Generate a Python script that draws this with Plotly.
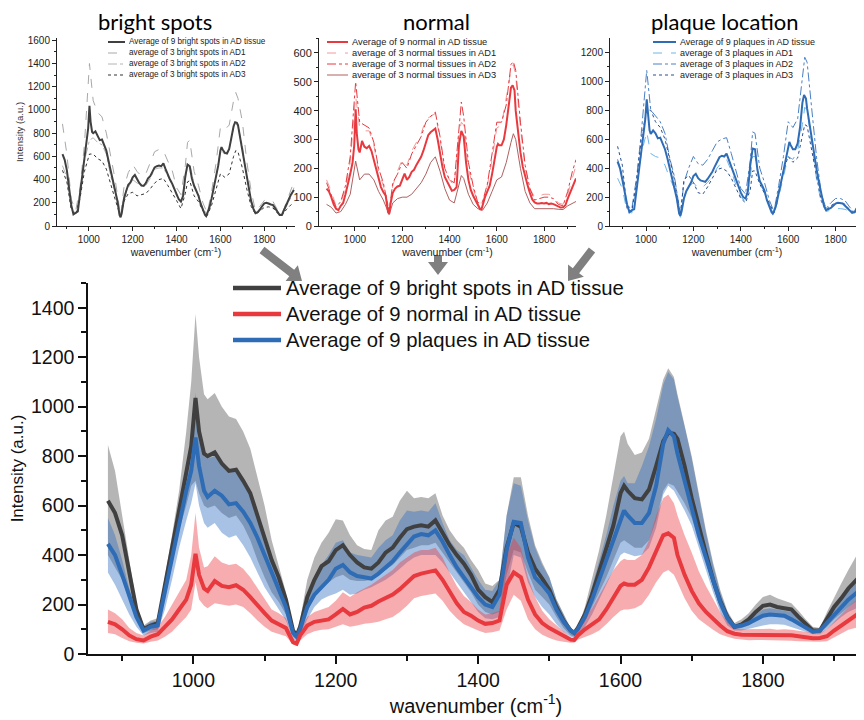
import math
import plotly.graph_objects as go

# ---------------- data (main panel) ----------------
wn = ([880, 890, 900, 910, 920, 930, 940, 950, 960, 970, 980, 990,
       997, 1003, 1008, 1015,
       1020, 1030, 1040, 1050, 1060, 1070, 1080, 1090, 1100, 1110, 1120, 1130, 1140,
       1145]
      + list(range(1150, 1531, 10))
      + [1535]
      + list(range(1540, 1601, 10))
      + [1605]
      + list(range(1610, 1661, 10))
      + [1667, 1675]
      + list(range(1680, 1921, 10))
      + [1935])

bright_mean = ([620, 570, 480, 330, 180, 100, 115, 125, 280, 430, 580, 730]
               + [840, 1035, 900, 810]
               + [800, 815, 770, 740, 745, 700, 650, 560, 470, 380, 310, 220, 95]
               + [75]
               + [110, 230, 300, 355, 375, 420, 440, 400, 370, 350, 345, 370, 410, 430, 470,
                  505, 515, 520, 515, 540, 490, 440, 400, 365, 320, 260, 230, 210, 260, 430,
                  530, 515, 410, 345, 305, 260, 190, 135, 95]
               + [85]
               + [105, 160, 240, 330, 420, 520, 650]
               + [680]
               + [660, 630, 625, 665, 760, 860]
               + [895, 890]
               + [870, 760, 630, 510, 405, 300, 215, 150, 110, 120, 140, 170, 195, 200, 190,
                  185, 180, 150, 120, 95, 95, 140, 190, 225, 265]
               + [310])
bright_upper = ([845, 740, 560, 370, 200, 115, 135, 145, 310, 480, 660, 900]
                + [1100, 1375, 1200, 1050]
                + [1030, 1055, 1000, 960, 950, 900, 830, 720, 600, 460, 350, 250, 105]
                + [85]
                + [140, 300, 390, 450, 490, 545, 540, 480, 440, 425, 420, 500, 540, 555, 620,
                   660, 630, 635, 630, 650, 560, 500, 460, 430, 380, 340, 285, 275, 300, 560,
                   715, 715, 560, 440, 370, 310, 220, 160, 105]
                + [90]
                + [110, 190, 300, 420, 560, 720, 880]
                + [900]
                + [850, 805, 815, 870, 990, 1110]
                + [1155, 1120]
                + [1050, 930, 800, 650, 500, 370, 260, 175, 125, 140, 165, 200, 230, 240, 225,
                   215, 205, 175, 140, 110, 105, 170, 230, 285, 340]
                + [415])
bright_lower = ([400, 350, 300, 220, 140, 85, 95, 100, 220, 360, 500, 600]
                + [680, 700, 650, 600]
                + [590, 600, 570, 550, 560, 520, 460, 380, 310, 250, 210, 160, 70]
                + [60]
                + [85, 170, 230, 270, 290, 310, 320, 300, 295, 295, 300, 320, 340, 360, 390,
                   420, 430, 440, 440, 450, 410, 370, 330, 290, 250, 200, 170, 160, 170, 320,
                   420, 410, 330, 260, 230, 200, 150, 105, 75]
                + [70]
                + [90, 130, 190, 250, 310, 380, 450]
                + [460]
                + [450, 430, 430, 460, 540, 660]
                + [690, 680]
                + [660, 610, 550, 460, 370, 270, 185, 125, 100, 105, 115, 135, 150, 155, 150,
                   148, 140, 120, 100, 82, 85, 110, 140, 165, 190]
                + [220])

plaque_mean = ([445, 400, 320, 230, 150, 95, 110, 115, 250, 390, 530, 660]
               + [740, 875, 760, 660]
               + [635, 660, 640, 605, 610, 575, 530, 470, 400, 330, 265, 190, 85]
               + [70]
               + [100, 190, 240, 270, 300, 345, 360, 330, 315, 310, 305, 325, 350, 375, 410,
                  445, 475, 485, 480, 500, 455, 400, 350, 310, 270, 230, 200, 190, 240, 420,
                  535, 530, 390, 310, 280, 245, 180, 130, 95]
               + [85]
               + [100, 150, 220, 300, 380, 460, 545]
               + [580]
               + [560, 530, 530, 570, 680, 850]
               + [905, 880]
               + [810, 700, 590, 480, 390, 300, 210, 145, 110, 115, 125, 140, 155, 160, 158,
                  155, 140, 122, 105, 90, 95, 125, 160, 190, 220]
               + [255])
plaque_upper = ([550, 480, 380, 265, 170, 110, 130, 135, 280, 440, 600, 750]
                + [880, 1055, 880, 800]
                + [790, 800, 765, 735, 740, 700, 640, 550, 465, 380, 300, 215, 95]
                + [80]
                + [120, 240, 300, 360, 400, 450, 460, 410, 400, 395, 390, 430, 460, 480, 540,
                   580, 575, 580, 575, 610, 530, 460, 420, 400, 350, 300, 260, 255, 300, 560,
                   690, 680, 540, 430, 360, 310, 220, 160, 100]
                + [90]
                + [105, 170, 270, 370, 480, 600, 700]
                + [720]
                + [690, 690, 760, 840, 950, 1090]
                + [1140, 1110]
                + [1040, 920, 790, 640, 490, 360, 250, 170, 115, 125, 140, 160, 180, 185, 180,
                   178, 170, 145, 120, 100, 100, 145, 190, 230, 270]
                + [320])
plaque_lower = ([330, 280, 220, 160, 110, 75, 85, 90, 180, 300, 430, 540]
                + [610, 690, 600, 530]
                + [510, 530, 490, 470, 480, 440, 390, 330, 270, 220, 180, 135, 60]
                + [55]
                + [75, 140, 190, 220, 235, 245, 260, 240, 245, 260, 270, 285, 300, 320, 345,
                   370, 390, 400, 400, 400, 370, 330, 290, 250, 210, 170, 145, 140, 150, 260,
                   400, 390, 290, 230, 190, 160, 120, 90, 70]
                + [65]
                + [80, 110, 160, 220, 280, 340, 400]
                + [410]
                + [405, 395, 400, 430, 510, 645]
                + [680, 660]
                + [630, 580, 520, 430, 340, 250, 170, 115, 95, 95, 100, 108, 115, 120, 120,
                   118, 110, 100, 90, 80, 80, 100, 125, 150, 170]
                + [190])

normal_mean = ([130, 120, 100, 75, 60, 55, 70, 80, 110, 140, 180, 220]
               + [280, 405, 320, 265]
               + [255, 295, 275, 270, 278, 260, 230, 195, 165, 135, 118, 105, 48]
               + [42]
               + [75, 115, 130, 137, 140, 160, 182, 160, 170, 188, 195, 212, 225, 240, 262,
                  290, 315, 325, 330, 338, 300, 250, 205, 170, 155, 135, 122, 125, 135, 280,
                  330, 310, 220, 160, 125, 105, 90, 72, 58]
               + [57]
               + [75, 100, 120, 140, 180, 230, 275]
               + [285]
               + [280, 280, 300, 350, 420, 480]
               + [488, 470]
               + [400, 320, 255, 205, 170, 142, 115, 92, 82, 78, 78, 80, 78, 80, 76,
                  78, 76, 72, 68, 64, 65, 72, 95, 115, 138]
               + [165])
normal_upper = ([180, 165, 140, 105, 85, 75, 95, 110, 150, 200, 250, 300]
                + [400, 570, 430, 350]
                + [355, 395, 370, 360, 365, 345, 310, 265, 220, 180, 165, 145, 62]
                + [55]
                + [100, 150, 170, 180, 190, 215, 250, 230, 250, 265, 280, 300, 320, 340, 370,
                   390, 410, 420, 420, 430, 390, 330, 275, 235, 210, 180, 160, 165, 175, 400,
                   470, 430, 310, 230, 175, 140, 115, 90, 68]
                + [65]
                + [90, 145, 185, 235, 290, 340, 375]
                + [385]
                + [380, 380, 400, 460, 560, 630]
                + [645, 610]
                + [560, 480, 410, 335, 275, 220, 170, 130, 105, 100, 100, 102, 100, 102, 98,
                   100, 98, 95, 90, 85, 85, 100, 130, 160, 190]
                + [225])
normal_lower = ([85, 80, 65, 52, 45, 42, 50, 55, 70, 90, 120, 150]
                + [180, 290, 220, 195]
                + [185, 205, 200, 195, 200, 190, 165, 135, 110, 90, 80, 72, 38]
                + [33]
                + [55, 80, 92, 98, 100, 110, 120, 110, 115, 122, 125, 130, 140, 150, 170,
                   195, 225, 235, 240, 245, 215, 175, 145, 120, 108, 95, 85, 88, 95, 180,
                   240, 215, 140, 100, 78, 65, 55, 50, 45]
                + [45]
                + [58, 70, 80, 95, 120, 150, 175]
                + [180]
                + [180, 185, 200, 240, 290, 330]
                + [340, 320]
                + [290, 225, 175, 140, 118, 98, 80, 70, 62, 58, 56, 57, 55, 56, 55,
                   55, 54, 52, 50, 50, 50, 52, 68, 82, 98]
                + [110])

# ---------------- data (small panels: per-AD averages) ----------------
sx = [880, 900, 920, 940, 960, 980, 1003, 1020, 1040, 1060, 1080, 1100, 1120, 1145, 1160,
      1180, 1200, 1220, 1240, 1260, 1280, 1300, 1320, 1340, 1360, 1380, 1400, 1420, 1440,
      1450, 1460, 1480, 1500, 1520, 1540, 1560, 1580, 1600, 1620, 1640, 1660, 1670, 1680,
      1700, 1720, 1740, 1760, 1780, 1800, 1820, 1840, 1860, 1880, 1900, 1920, 1935]

bright_ad1 = [880, 620, 230, 130, 330, 700, 1400, 1080, 980, 940, 800, 600, 400, 85, 330, 460,
              530, 470, 430, 450, 540, 640, 660, 650, 560, 480, 330, 270, 520, 720, 740, 470,
              350, 200, 110, 300, 540, 850, 830, 870, 1080, 1150, 1100, 900, 560, 300, 130,
              170, 220, 230, 210, 140, 100, 200, 290, 380]
bright_ad2 = [520, 420, 160, 110, 280, 560, 740, 760, 720, 700, 620, 430, 290, 80, 260, 330,
              400, 370, 340, 350, 410, 490, 500, 500, 430, 360, 260, 210, 400, 520, 540, 360,
              270, 150, 100, 230, 420, 650, 620, 660, 850, 880, 860, 690, 420, 220, 110, 150,
              190, 200, 185, 130, 95, 170, 240, 330]
bright_ad3 = [480, 380, 140, 100, 240, 470, 620, 620, 580, 560, 490, 350, 230, 80, 210, 280,
              290, 260, 270, 280, 320, 370, 400, 410, 350, 290, 220, 150, 280, 380, 390, 260,
              210, 130, 90, 180, 320, 450, 420, 450, 600, 650, 640, 500, 320, 170, 100, 130,
              160, 165, 155, 110, 90, 140, 180, 200]
normal_ad1 = [160, 120, 70, 80, 130, 220, 450, 340, 330, 330, 280, 190, 140, 55, 140, 190,
              230, 210, 260, 290, 320, 370, 380, 390, 300, 190, 160, 140, 320, 360, 350, 200,
              130, 80, 80, 140, 230, 340, 350, 440, 540, 560, 520, 340, 200, 130, 100, 105,
              110, 110, 100, 80, 75, 110, 170, 210]
normal_ad2 = [150, 110, 65, 85, 140, 240, 500, 360, 350, 340, 290, 200, 150, 50, 150, 180,
              220, 200, 250, 280, 310, 360, 380, 395, 310, 200, 160, 150, 350, 430, 380, 220,
              140, 80, 85, 145, 250, 360, 360, 420, 560, 570, 540, 360, 210, 130, 90, 95,
              100, 100, 95, 75, 70, 120, 190, 230]
normal_ad3 = [75, 65, 45, 50, 75, 110, 225, 160, 180, 180, 160, 120, 90, 40, 80, 95,
              100, 100, 110, 130, 150, 180, 220, 240, 190, 130, 90, 80, 150, 175, 165, 110,
              75, 60, 55, 80, 120, 160, 170, 220, 290, 320, 300, 200, 120, 80, 60, 60,
              62, 62, 60, 58, 57, 70, 80, 85]
plaque_ad1 = [330, 260, 100, 90, 260, 500, 650, 500, 480, 470, 420, 330, 260, 60, 200, 270,
              300, 260, 270, 300, 340, 400, 440, 460, 380, 280, 200, 170, 330, 480, 480, 300,
              230, 150, 75, 200, 340, 480, 460, 520, 700, 820, 800, 560, 320, 160, 100, 110,
              120, 120, 115, 100, 85, 130, 170, 200]
plaque_ad2 = [460, 350, 140, 120, 330, 640, 1075, 800, 760, 720, 640, 470, 340, 80, 300, 400,
              480, 430, 420, 460, 520, 580, 600, 610, 500, 380, 260, 220, 450, 650, 640, 400,
              300, 180, 100, 280, 480, 720, 680, 740, 1000, 1165, 1130, 820, 470, 220, 120,
              160, 190, 190, 175, 130, 95, 170, 230, 270]
plaque_ad3 = [550, 420, 120, 100, 310, 600, 800, 800, 720, 680, 600, 450, 320, 70, 320, 350,
              300, 230, 220, 270, 330, 390, 400, 380, 330, 260, 190, 160, 250, 380, 380, 290,
              230, 160, 90, 230, 380, 480, 440, 470, 620, 700, 690, 520, 330, 170, 110, 140,
              160, 160, 150, 110, 90, 150, 190, 220]

# The page body has an 8px margin; size the figure so that it fills the window exactly.
OFF = 8
W, H = 864 - OFF, 720 - OFF
def px(x):
    return (x - OFF) / W
def py(y):
    return 1 - (y - OFF) / H

C_BRIGHT = "#404040"
C_NORMAL = "#e8393f"
C_PLAQUE = "#2e6cb6"
MAINFONT = "Liberation Sans, Arial, sans-serif"

fig = go.Figure()

def band(x, lo, hi, color, xa="x", ya="y"):
    fig.add_trace(go.Scatter(x=list(x) + list(x)[::-1], y=list(hi) + list(lo)[::-1],
                             fill="toself", fillcolor=color, mode="lines",
                             line=dict(width=0), hoverinfo="skip", showlegend=False,
                             xaxis=xa, yaxis=ya))

band(wn, bright_lower, bright_upper, "rgba(100,100,100,0.48)")
band(wn, plaque_lower, plaque_upper, "rgba(45,110,190,0.42)")
band(wn, normal_lower, normal_upper, "rgba(235,60,65,0.42)")

main_series = [
    ("Average of 9 bright spots in AD tissue", bright_mean, C_BRIGHT),
    ("Average of 9 normal in AD tissue", normal_mean, C_NORMAL),
    ("Average of 9 plaques in AD tissue", plaque_mean, C_PLAQUE),
]
for name, vals, col in [main_series[0], main_series[2], main_series[1]]:
    fig.add_trace(go.Scatter(x=wn, y=vals, mode="lines", name=name, showlegend=False,
                             line=dict(color=col, width=4)))

shapes = []
annotations = []

# main legend (drawn by hand to match the long line samples and row spacing)
for i, (name, _, col) in enumerate(main_series):
    ry = 288 + 26 * i
    shapes.append(dict(type="line", xref="paper", yref="paper", x0=px(233), x1=px(281),
                       y0=py(ry), y1=py(ry), line=dict(color=col, width=4.5)))
    annotations.append(dict(text=name, xref="paper", yref="paper", x=px(284), y=py(ry),
                            xanchor="left", yanchor="middle", showarrow=False,
                            font=dict(family=MAINFONT, size=20.3, color="#111")))

# small panels
panels = [
    ("x2", "y2", bright_mean, C_BRIGHT,
     [(bright_ad1, "#a8a8a8", "dash"), (bright_ad2, "#b4b4b4", "dashdot"), (bright_ad3, "#333333", "dot")],
     ["Average of 9 bright spots in AD tissue", "average of 3 bright spots in AD1",
      "average of 3 bright spots in AD2", "average of 3 bright spots in AD3"], 108, 125, 8.2),
    ("x3", "y3", normal_mean, C_NORMAL,
     [(normal_ad1, "#f29a9a", "dash"), (normal_ad2, "#e8393f", "dashdot"), (normal_ad3, "#b06060", "solid")],
     ["Average of 9 normal in AD tissue", "average of 3 normal tissues in AD1",
      "average of 3 normal tissues in AD2", "average of 3 normal tissues in AD3"], 327, 348, 9.3),
    ("x4", "y4", plaque_mean, C_PLAQUE,
     [(plaque_ad1, "#6fb6ea", "dash"), (plaque_ad2, "#4a80c4", "dashdot"), (plaque_ad3, "#2a4f8f", "dot")],
     ["Average of 9 plaques in AD tissue", "average of 3 plaques in AD1",
      "average of 3 plaques in AD2", "average of 3 plaques in AD3"], 653, 676, 9.0),
]

row_y = [42, 53, 64, 75]
for xa, ya, mean, col, ads, labels, lx0, lx1, fs in panels:
    for vals, c, d in ads:
        fig.add_trace(go.Scatter(x=sx, y=vals, mode="lines", showlegend=False,
                                 line=dict(color=c, width=1, dash=d), xaxis=xa, yaxis=ya))
    fig.add_trace(go.Scatter(x=wn, y=mean, mode="lines", showlegend=False,
                             line=dict(color=col, width=2), xaxis=xa, yaxis=ya))
    styles = [(col, 2, "solid")] + [(c, 1, d) for _, c, d in ads]
    for (c, w, d), lab, ry in zip(styles, labels, row_y):
        shapes.append(dict(type="line", xref="paper", yref="paper",
                           x0=px(lx0), x1=px(lx1), y0=py(ry), y1=py(ry),
                           line=dict(color=c, width=w, dash=d)))
        annotations.append(dict(text=lab, xref="paper", yref="paper", x=px(lx1 + 2), y=py(ry),
                                xanchor="left", yanchor="middle", showarrow=False,
                                font=dict(family=MAINFONT, size=fs, color="#222")))

# panel titles
for t, cx in [("bright spots", 155), ("normal", 437), ("plaque location", 725)]:
    annotations.append(dict(text=t, xref="paper", yref="paper", x=px(cx), y=py(22),
                            xanchor="center", yanchor="middle", showarrow=False,
                            font=dict(family="Lato, Open Sans, sans-serif", size=22, color="#000")))

# gray arrows (decoration), drawn as polygons
def arrow_path(tail, tip, shaft=8.0, head_w=20.0, head_l=13.0):
    dx, dy = tip[0] - tail[0], tip[1] - tail[1]
    L = math.hypot(dx, dy)
    ux, uy = dx / L, dy / L
    nx, ny = -uy, ux
    bx, by = tip[0] - ux * head_l, tip[1] - uy * head_l
    pts = [(tail[0] + nx * shaft / 2, tail[1] + ny * shaft / 2),
           (bx + nx * shaft / 2, by + ny * shaft / 2),
           (bx + nx * head_w / 2, by + ny * head_w / 2),
           tip,
           (bx - nx * head_w / 2, by - ny * head_w / 2),
           (bx - nx * shaft / 2, by - ny * shaft / 2),
           (tail[0] - nx * shaft / 2, tail[1] - ny * shaft / 2)]
    return "M " + " L ".join(f"{px(a):.5f},{py(b):.5f}" for a, b in pts) + " Z"

for tail, tip in [((262, 250), (302, 281)), ((438, 255), (438, 275)), ((592, 250), (568, 281))]:
    shapes.append(dict(type="path", xref="paper", yref="paper", path=arrow_path(tail, tip),
                       fillcolor="#808080", line=dict(width=0)))

def small_x(dom, rng, anchor):
    return dict(domain=dom, range=rng, anchor=anchor, showline=True, linecolor="#222", linewidth=1,
                ticks="outside", ticklen=4, tickcolor="#222", tick0=1000, dtick=200,
                minor=dict(dtick=100, ticklen=2, ticks="outside", tickcolor="#222"),
                showgrid=False, zeroline=False, automargin=False,
                tickfont=dict(family=MAINFONT, size=10, color="#222"),
                title=dict(text="wavenumber (cm<sup>-1</sup>)", standoff=1,
                           font=dict(family=MAINFONT, size=10.5, color="#222")))

def small_y(rng, dt, anchor, fs=10, title=None):
    d = dict(domain=[py(226), py(38)], range=rng, anchor=anchor, showline=True, linecolor="#222",
             linewidth=1, ticks="outside", ticklen=4, tickcolor="#222", tick0=0, dtick=dt,
             minor=dict(dtick=dt / 2, ticklen=2, ticks="outside", tickcolor="#222"),
             showgrid=False, zeroline=False, automargin=False,
             tickfont=dict(family=MAINFONT, size=fs, color="#222"))
    if title:
        d["title"] = dict(text=title, standoff=2, font=dict(family=MAINFONT, size=9.5, color="#333"))
    return d

fig.update_layout(
    width=W, height=H, margin=dict(l=0, r=0, t=0, b=0, autoexpand=False),
    paper_bgcolor="white", plot_bgcolor="white",
    showlegend=False,
    xaxis=dict(domain=[px(88), 1], range=[852, 1942], anchor="y", showline=True, linecolor="#111",
               linewidth=1.5, ticks="outside", ticklen=8, tickwidth=1.5, tickcolor="#111",
               tick0=1000, dtick=200, automargin=False,
               minor=dict(dtick=100, ticklen=5, tickwidth=1.5, ticks="outside", tickcolor="#111"),
               showgrid=False, zeroline=False,
               tickfont=dict(family=MAINFONT, size=19.5, color="#111"),
               title=dict(text="wavenumber (cm<sup>-1</sup>)", standoff=6,
                          font=dict(family=MAINFONT, size=20, color="#111"))),
    yaxis=dict(domain=[py(654), py(283)], range=[0, 1500], anchor="x", showline=True,
               linecolor="#111", linewidth=1.5, ticks="outside", ticklen=8, tickwidth=1.5,
               tickcolor="#111", tick0=0, dtick=200, automargin=False,
               minor=dict(dtick=100, ticklen=5, tickwidth=1.5, ticks="outside", tickcolor="#111"),
               showgrid=False, zeroline=False,
               tickfont=dict(family=MAINFONT, size=19.5, color="#111"),
               title=dict(text="Intensity (a.u.)", standoff=4,
                          font=dict(family=MAINFONT, size=17, color="#111"))),
    xaxis2=small_x([px(57), px(295)], [855, 1940], "y2"),
    yaxis2=small_y([0, 1620], 200, "x2", title="Intensity (a.u.)"),
    xaxis3=small_x([px(319), px(576)], [848, 1935], "y3"),
    yaxis3=small_y([0, 652], 100, "x3", fs=11),
    xaxis4=small_x([px(610), 1], [848, 1920], "y4"),
    yaxis4=small_y([0, 1298], 200, "x4"),
    shapes=shapes, annotations=annotations,
)

fig.write_html("out.html")
